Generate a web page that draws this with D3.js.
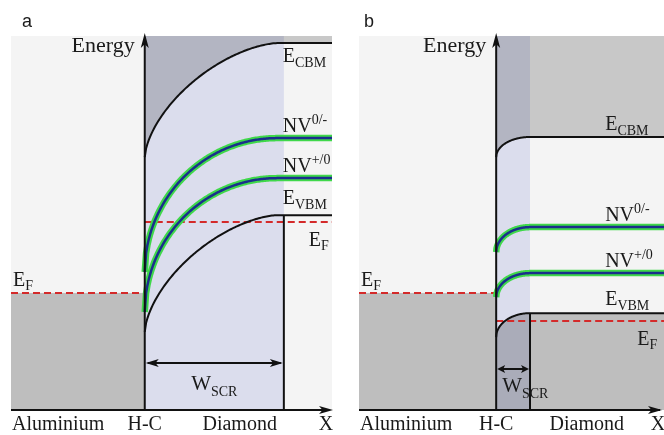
<!DOCTYPE html>
<html>
<head>
<meta charset="utf-8">
<script src="https://cdn.jsdelivr.net/npm/d3@7"></script>
<style>
  body { margin: 0; background: #fff; }
  text { font-family: "Liberation Serif", "DejaVu Serif", serif; fill: #1a1a1a; }
  .panel-id { font-family: "Liberation Sans", Arial, sans-serif; }
</style>
</head>
<body>
<script>
// Band diagram values (energy in arbitrary units, position in arbitrary units)
const panelIds = ["a", "b"];
const xDomains = [[-5, 7], [-5.15, 6.3]];
const scrWidth = [5.2, 1.27];          // width of space charge region
const bendWidth = [4.95, 1.27];        // where bands become flat
const levelNames = ["CBM", "NV0/-", "NV+/0", "VBM"];
const flatEnergyA = [9.81, 7.27, 6.20, 5.21];
const interfaceEnergyA = [6.76, 3.69, 2.62, 2.09];
const flatEnergyB = [7.30, 4.89, 3.66, 2.59];
const interfaceEnergyB = [6.76, 4.22, 3.02, 1.95];
const fermiDiamond = [5.03, 2.38];
const fermiMetal = [3.13, 3.13];
const axisLabels = ["Aluminium", "H-C", "Diamond", "X"];

const flatEnergy = [flatEnergyA, flatEnergyB];
const interfaceEnergy = [interfaceEnergyA, interfaceEnergyB];

const W = 664, H = 435;
const panelRanges = [[11, 332], [359, 664]];
const yScale = d3.scaleLinear().domain([0, 10]).range([410, 36]);

const svg = d3.select("body").append("svg")
    .attr("width", W)
    .attr("height", H)
    .style("isolation", "isolate");

// superellipse-shaped band bending from the interface to the flat level
function bandPoints(flat, inter, w, p, xmax) {
    const pts = d3.range(0, 1.0001, 0.01)
        .map(t => [t * w, inter + (flat - inter) * Math.pow(1 - Math.pow(1 - t, p), 1 / p)]);
    pts.push([xmax, flat]);
    return pts;
}

function arrowHead(g, tipX, tipY, dir, len, hw) {
    const c = Math.cos(dir), s = Math.sin(dir);
    const p = (a, b) => [tipX - a * c + b * s, tipY - a * s - b * c];
    const pts = [p(0, 0), p(len, hw), p(len * 0.75, 0), p(len, -hw)];
    g.append("path")
        .attr("d", "M" + pts.map(d => d.join(",")).join("L") + "Z")
        .attr("fill", "#111");
}

panelIds.forEach((id, i) => {
    const x = d3.scaleLinear().domain(xDomains[i]).range(panelRanges[i]);
    const y = yScale;
    const g = svg.append("g");
    const xmin = xDomains[i][0], xmax = xDomains[i][1];
    const pBlack = i === 0 ? 1.6 : 2;
    const pNV = 2;
    const shapeP = [pBlack, pNV, pNV, pBlack];

    const bands = levelNames.map((n, j) =>
        bandPoints(flatEnergy[i][j], interfaceEnergy[i][j], bendWidth[i], shapeP[j], xmax));

    // panel background
    g.append("rect")
        .attr("x", x(xmin)).attr("y", y(10))
        .attr("width", x(xmax) - x(xmin)).attr("height", y(0) - y(10))
        .attr("fill", "#f4f4f4");

    // metal filled states
    g.append("rect")
        .attr("x", x(xmin)).attr("y", y(fermiMetal[i]))
        .attr("width", x(0) - x(xmin)).attr("height", y(0) - y(fermiMetal[i]))
        .attr("fill", "#bebebe");

    // conduction band region
    g.append("path")
        .datum(bands[0])
        .attr("d", d3.area().x(d => x(d[0])).y0(y(10)).y1(d => y(d[1])))
        .attr("fill", "#c8c8c8");

    // valence band region (panel b)
    if (i === 1) {
        g.append("path")
            .datum(bands[3])
            .attr("d", d3.area().x(d => x(d[0])).y0(y(0)).y1(d => y(d[1])))
            .attr("fill", "#bebebe");
    }

    // space charge region overlay
    g.append("rect")
        .attr("x", x(0)).attr("y", y(10))
        .attr("width", x(scrWidth[i]) - x(0)).attr("height", y(0) - y(10))
        .attr("fill", "#e5e7f8")
        .style("mix-blend-mode", "multiply");

    // Fermi levels
    g.append("line")
        .attr("x1", x(xmin)).attr("x2", x(0))
        .attr("y1", y(fermiMetal[i])).attr("y2", y(fermiMetal[i]))
        .attr("stroke", "#d42a2a").attr("stroke-width", 2).attr("stroke-dasharray", "7,4");
    g.append("line")
        .attr("x1", x(0)).attr("x2", x(xmax))
        .attr("y1", y(fermiDiamond[i])).attr("y2", y(fermiDiamond[i]))
        .attr("stroke", "#d42a2a").attr("stroke-width", 2).attr("stroke-dasharray", "7,4");

    const line = d3.line().x(d => x(d[0])).y(d => y(d[1]));

    // NV levels
    [1, 2].forEach(j => {
        g.append("path").datum(bands[j]).attr("d", line)
            .attr("fill", "none").attr("stroke", "#3fd84a").attr("stroke-width", 6.5);
        g.append("path").datum(bands[j]).attr("d", line)
            .attr("fill", "none").attr("stroke", "#1a2f8c").attr("stroke-width", 2.5);
    });

    // band edges
    [0, 3].forEach(j => {
        g.append("path").datum(bands[j]).attr("d", line)
            .attr("fill", "none").attr("stroke", "#111").attr("stroke-width", 2);
    });

    // SCR boundary
    g.append("line")
        .attr("x1", x(scrWidth[i])).attr("x2", x(scrWidth[i]))
        .attr("y1", y(flatEnergy[i][3])).attr("y2", y(0))
        .attr("stroke", "#111").attr("stroke-width", 2);

    // axes
    g.append("line")
        .attr("x1", x(0)).attr("x2", x(0))
        .attr("y1", y(0)).attr("y2", y(10) + 4)
        .attr("stroke", "#111").attr("stroke-width", 2);
    arrowHead(g, x(0), y(10) - 3, -Math.PI / 2, 15, 4);
    g.append("line")
        .attr("x1", x(xmin)).attr("x2", x(xmax) - 4)
        .attr("y1", y(0)).attr("y2", y(0))
        .attr("stroke", "#111").attr("stroke-width", 2);
    arrowHead(g, Math.min(x(xmax) + 1, W - 2), y(0), 0, 14, 4);

    // W_SCR arrow
    const arrowY = i === 0 ? 363 : 369;
    const headLen = i === 0 ? 13 : 8;
    g.append("line")
        .attr("x1", x(0) + 3).attr("x2", x(scrWidth[i]) - 3)
        .attr("y1", arrowY).attr("y2", arrowY)
        .attr("stroke", "#111").attr("stroke-width", 2);
    arrowHead(g, x(0) + 1, arrowY, Math.PI, headLen, 4);
    arrowHead(g, x(scrWidth[i]) - 1, arrowY, 0, headLen, 4);

    const wLabel = g.append("text")
        .attr("x", i === 0 ? x(scrWidth[i] / 2) : x(0) + 6)
        .attr("y", i === 0 ? 390 : 392)
        .attr("text-anchor", i === 0 ? "middle" : "start")
        .style("font-size", "21px");
    wLabel.append("tspan").text("W");
    wLabel.append("tspan").text("SCR").style("font-size", "14px").attr("dy", 6);

    // panel id
    g.append("text").attr("class", "panel-id")
        .attr("x", i === 0 ? 22 : 364).attr("y", 27)
        .style("font-size", "18px").text(id);

    // Energy label
    g.append("text")
        .attr("x", x(0) - 10).attr("y", 52)
        .attr("text-anchor", "end")
        .style("font-size", "22px").text("Energy");

    // level labels
    const labelX = i === 0 ? x(0) + 138 : x(0) + 109;
    const labelOffsets = i === 0 ? [19, -6, -6, -11] : [-7, -6, -6, -8];
    const mains = ["E", "NV", "NV", "E"];
    const scripts = ["CBM", "0/-", "+/0", "VBM"];
    levelNames.forEach((n, j) => {
        const t = g.append("text")
            .attr("x", labelX)
            .attr("y", y(flatEnergy[i][j]) + labelOffsets[j])
            .style("font-size", "20px");
        t.append("tspan").text(mains[j]);
        const isSup = j === 1 || j === 2;
        t.append("tspan").text(scripts[j])
            .style("font-size", "14px")
            .attr("dy", isSup ? -8 : 5);
    });

    // Fermi labels
    const efLeft = g.append("text")
        .attr("x", x(xmin) + 2).attr("y", y(fermiMetal[i]) - 7)
        .style("font-size", "20px");
    efLeft.append("tspan").text("E");
    efLeft.append("tspan").text("F").style("font-size", "14px").attr("dy", 4);
    const efRight = g.append("text")
        .attr("x", i === 0 ? x(0) + 164 : x(0) + 141)
        .attr("y", y(fermiDiamond[i]) + 24)
        .style("font-size", "20px");
    efRight.append("tspan").text("E");
    efRight.append("tspan").text("F").style("font-size", "14px").attr("dy", 4);

    // x-axis labels
    const labelPos = [
        [x(xmin) + 1, "start"],
        [x(0), "middle"],
        [i === 0 ? x(3.55) : x(3.4), "middle"],
        [x(xmax) - 6, "middle"]
    ];
    axisLabels.forEach((s, j) => {
        g.append("text")
            .attr("x", labelPos[j][0]).attr("y", 430)
            .attr("text-anchor", labelPos[j][1])
            .style("font-size", "20px").text(s);
    });
});
</script>
</body>
</html>
